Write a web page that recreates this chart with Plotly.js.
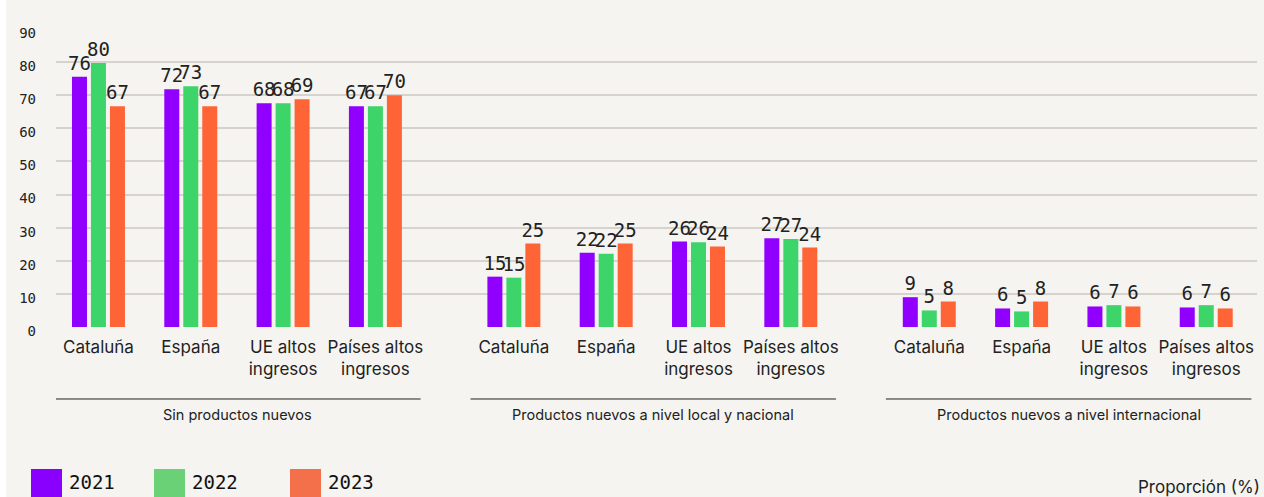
<!DOCTYPE html>
<html>
<head>
<meta charset="utf-8">
<script src="https://cdn.plot.ly/plotly-3.0.1.min.js"></script>
<style>
  html, body { margin: 0; padding: 0; background: #ffffff; }
  #chart { position: absolute; left: 6px; top: 0; width: 1258px; height: 497px; }
</style>
</head>
<body>
<div id="chart"></div>
<script>
// ---- Data ----
const groups = ["Sin productos nuevos", "Productos nuevos a nivel local y nacional", "Productos nuevos a nivel internacional"];
const regions = ["Cataluña", "España", "UE altos<br>ingresos", "Países altos<br>ingresos"];
const years = ["2021", "2022", "2023"];
const v2021 = [75.6, 71.8, 67.6, 66.7,   15.2, 22.4, 25.8, 26.8,   9.0, 5.6, 6.2, 5.9];
const v2022 = [79.7, 72.7, 67.6, 66.7,   14.9, 22.1, 25.6, 26.6,   5.0, 4.7, 6.6, 6.6];
const v2023 = [66.7, 66.7, 68.8, 70.0,   25.2, 25.2, 24.3, 24.0,   7.7, 7.7, 6.2, 5.6];
const yTicks = [0, 10, 20, 30, 40, 50, 60, 70, 80, 90];
const unitLabel = "Proporción (%)";

// ---- Styles ----
const barColors = ["#9100FF", "#3DD56A", "#FF6436"];
const legendColors = ["#8A00FF", "#6BD176", "#F4704A"];
const mono = "DejaVu Sans Mono, monospace";
const sans = "Inter, 'Noto Sans', sans-serif";
const groupStep = 4.5;

// positions on numeric axis
const xPos = [];
const tickText = [];
groups.forEach((g, gi) => regions.forEach((r, ri) => { xPos.push(gi * groupStep + ri); tickText.push(r); }));

const series = [v2021, v2022, v2023];
const traces = series.map((vals, i) => ({
  type: "bar",
  name: years[i],
  x: xPos,
  y: vals,
  marker: { color: barColors[i] },
  text: vals.map(v => String(Math.round(v))),
  texttemplate: "%{text}",
  textposition: "outside",
  constraintext: "none",
  cliponaxis: false,
  textfont: { family: mono, size: 19, color: "#222222" },
  hoverinfo: "skip"
}));

const shapes = [];
const annotations = [];
groups.forEach((g, gi) => {
  const x0 = gi * groupStep - 0.47;
  const x1 = gi * groupStep + 3 + 0.49;
  shapes.push({ type: "line", xref: "x", yref: "paper", x0: x0, x1: x1, y0: -0.2416, y1: -0.2416,
    line: { color: "#222222", width: 1 } });
  annotations.push({ xref: "x", yref: "paper", x: (x0 + x1) / 2, y: -0.292, yanchor: "middle",
    text: g, showarrow: false, font: { family: sans, size: 14.5, color: "#222222" } });
});

// legend (custom, larger swatches)
const legSq = [-25, 98, 234];
years.forEach((yr, i) => {
  shapes.push({ type: "rect", xref: "paper", yref: "paper", xsizemode: "pixel", ysizemode: "pixel",
    xanchor: 0, yanchor: 0, x0: legSq[i], x1: legSq[i] + 31, y0: -142, y1: -175,
    fillcolor: legendColors[i], line: { width: 0 } });
  annotations.push({ xref: "paper", yref: "paper", x: 0, y: 0, xshift: legSq[i] + 36, yshift: -155,
    xanchor: "left", yanchor: "middle", text: yr, showarrow: false,
    font: { family: mono, size: 19, color: "#111111" } });
});
annotations.push({ xref: "paper", yref: "paper", x: 1, y: 0, xshift: 5, yshift: -160,
  xanchor: "right", yanchor: "middle", text: unitLabel, showarrow: false,
  font: { family: sans, size: 17, color: "#222222" } });

const layout = {
  width: 1258, height: 497,
  paper_bgcolor: "#F5F4F0", plot_bgcolor: "#F5F4F0",
  margin: { l: 50, r: 7, t: 29, b: 170 },
  barmode: "group",
  bargap: 0.383,
  bargroupgap: 0.21,
  showlegend: false,
  xaxis: {
    type: "linear", range: [-0.46, 12.55],
    tickmode: "array", tickvals: xPos, ticktext: tickText,
    showgrid: false, zeroline: false, showline: false, ticks: "",
    ticklabelstandoff: 8,
    tickfont: { family: sans, size: 17, color: "#222222" }
  },
  yaxis: {
    range: [0, 90], tickmode: "array", tickvals: yTicks,
    showgrid: true, gridcolor: "#D6D3CC", gridwidth: 2, zeroline: false, showline: false,
    ticks: "", ticklabelstandoff: 19, ticklabelshift: 4,
    tickfont: { family: mono, size: 14, color: "#222222" }
  },
  shapes: shapes,
  annotations: annotations,
  font: { family: sans }
};

Plotly.newPlot("chart", traces, layout, { staticPlot: true, displayModeBar: false });
</script>
</body>
</html>
